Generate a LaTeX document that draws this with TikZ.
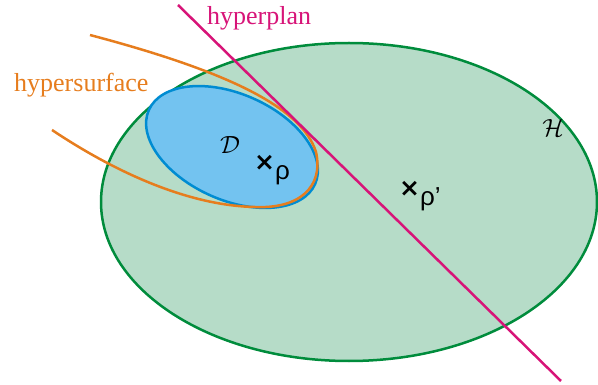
\documentclass[tikz,border=0pt]{standalone}
\usepackage{fontspec}
\setmainfont{Liberation Serif}
\newfontfamily\rhofont{Liberation Sans}
\newfontfamily\crossfont{DejaVu Sans}
\definecolor{hfill}{RGB}{182,220,200}
\definecolor{hline}{RGB}{0,140,60}
\definecolor{dfill}{RGB}{115,195,240}
\definecolor{dline}{RGB}{0,140,210}
\definecolor{surf}{RGB}{230,125,30}
\definecolor{plan}{RGB}{215,20,120}
\tikzset{
  lbl/.style={inner sep=0pt, font=\fontsize{26}{30}\selectfont},
  mlbl/.style={inner sep=0pt, font=\fontsize{30}{34}\selectfont},
  pt/.style={inner sep=0pt, font=\fontsize{26}{30}\selectfont},
  curve/.style={line width=2.5pt},
}
\newcommand{\crossmark}{{\crossfont\bfseries\fontsize{25}{28}\selectfont ×}}
\begin{document}
\begin{tikzpicture}[x=1pt,y=-1pt]
\useasboundingbox (0,0) rectangle (598,385);
% H
\coordinate (hc) at (349,202);
\filldraw[fill=hfill, draw=hline, curve] (hc) ellipse [x radius=248, y radius=159];
% D
\coordinate (dc) at (232,147);
\filldraw[fill=dfill, draw=dline, curve, rotate around={-24:(dc)}] (dc) ellipse [x radius=91, y radius=53];
% hypersurface
\coordinate (s1) at (90,35);
\coordinate (s2) at (316,152);
\coordinate (s3) at (255,207);
\coordinate (s4) at (52,130);
\draw[surf, curve] (s1) .. controls (230,72) and (302,108) .. (s2) .. controls (324,188) and (298,209) .. (s3) .. controls (200,206) and (130,182) .. (s4);
% hyperplan
\coordinate (p1) at (178,5);
\coordinate (p2) at (561,381);
\draw[plan, curve] (p1) -- (p2);
% labels
\node[lbl, text=plan, anchor=west] (lp) at (207,18) {hyperplan};
\node[lbl, text=surf, anchor=west] (ls) at (14,85) {hypersurface};
\node[mlbl] (ld) at (230,145) {$\mathcal{D}$};
\node[mlbl] (lh) at (553,128) {$\mathcal{H}$};
\node[pt, anchor=west] (rho) at (254,170) {\crossmark\raisebox{-0.35em}{\rhofont ρ}};
\node[pt, anchor=west] (rhop) at (399,196) {\crossmark\raisebox{-0.35em}{\rhofont ρ’}};
\end{tikzpicture}
\end{document}
